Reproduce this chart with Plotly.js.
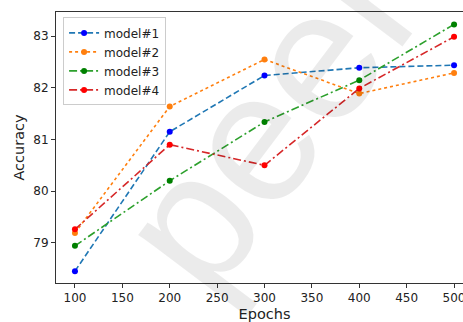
<!DOCTYPE html>
<html>
<head>
<meta charset="utf-8">
<script src="https://cdn.plot.ly/plotly-3.0.1.min.js"></script>
<style>
html,body{margin:0;padding:0;overflow:hidden;background:#fff;width:463px;height:322px;}
#chart{width:483px;height:322px;}
</style>
</head>
<body>
<div id="chart"></div>
<script>
const epochs = [100, 200, 300, 400, 500];
const model1 = [78.45, 81.15, 82.24, 82.39, 82.44];
const model2 = [79.19, 81.64, 82.55, 81.89, 82.29];
const model3 = [78.94, 80.20, 81.34, 82.15, 83.23];
const model4 = [79.26, 80.90, 80.50, 81.99, 82.99];
const names = ["model#1", "model#2", "model#3", "model#4"];
const xTicks = [100, 150, 200, 250, 300, 350, 400, 450, 500];
const yTicks = [79, 80, 81, 82, 83];

const series = [model1, model2, model3, model4];
const lineColors = ["#1f77b4", "#ff7f0e", "#2ca02c", "#d62728"];
const markerColors = ["#0000ff", "#ff7f0e", "#008000", "#ff0000"];
const dashes = ["6px,3px", "dot", "8px,3px,2px,3px", "8px,3px,2px,3px"];

const traces = series.map((ys, i) => ({
  x: epochs, y: ys, name: names[i], type: "scatter", mode: "lines+markers",
  line: {color: lineColors[i], width: 1.6, dash: dashes[i]},
  marker: {color: markerColors[i], size: 6}
}));

const layout = {
  width: 483, height: 322,
  margin: {l: 56, r: 10, t: 12, b: 39},
  paper_bgcolor: "#fff", plot_bgcolor: "#fff",
  font: {family: "DejaVu Sans", size: 12, color: "#222"},
  showlegend: true,
  legend: {x: 0.017, y: 0.98, xanchor: "left", yanchor: "top",
    bgcolor: "rgba(255,255,255,0.85)", bordercolor: "#cccccc", borderwidth: 1,
    font: {size: 12, color: "#222"}, itemwidth: 30, tracegroupgap: 0},
  xaxis: {range: [80, 520], tickvals: xTicks, ticks: "outside", ticklen: 4,
    tickcolor: "#333", showline: true, linecolor: "#333", linewidth: 1, mirror: true,
    showgrid: false, zeroline: false,
    title: {text: "Epochs", font: {size: 14.5}, standoff: 8}},
  yaxis: {range: [78.22, 83.47], tickvals: yTicks, ticks: "outside", ticklen: 4,
    tickcolor: "#333", showline: true, linecolor: "#333", linewidth: 1, mirror: true,
    showgrid: false, zeroline: false,
    title: {text: "Accuracy", font: {size: 14.5}, standoff: 5}},
  annotations: [{
    text: "peer", xref: "paper", yref: "paper", x: 0.511, y: 0.613,
    showarrow: false, textangle: -53,
    font: {family: "Liberation Sans", size: 185, color: "rgba(0,0,0,0.08)"}
  }]
};

Plotly.newPlot("chart", traces, layout, {displayModeBar: false, staticPlot: true});
</script>
</body>
</html>
